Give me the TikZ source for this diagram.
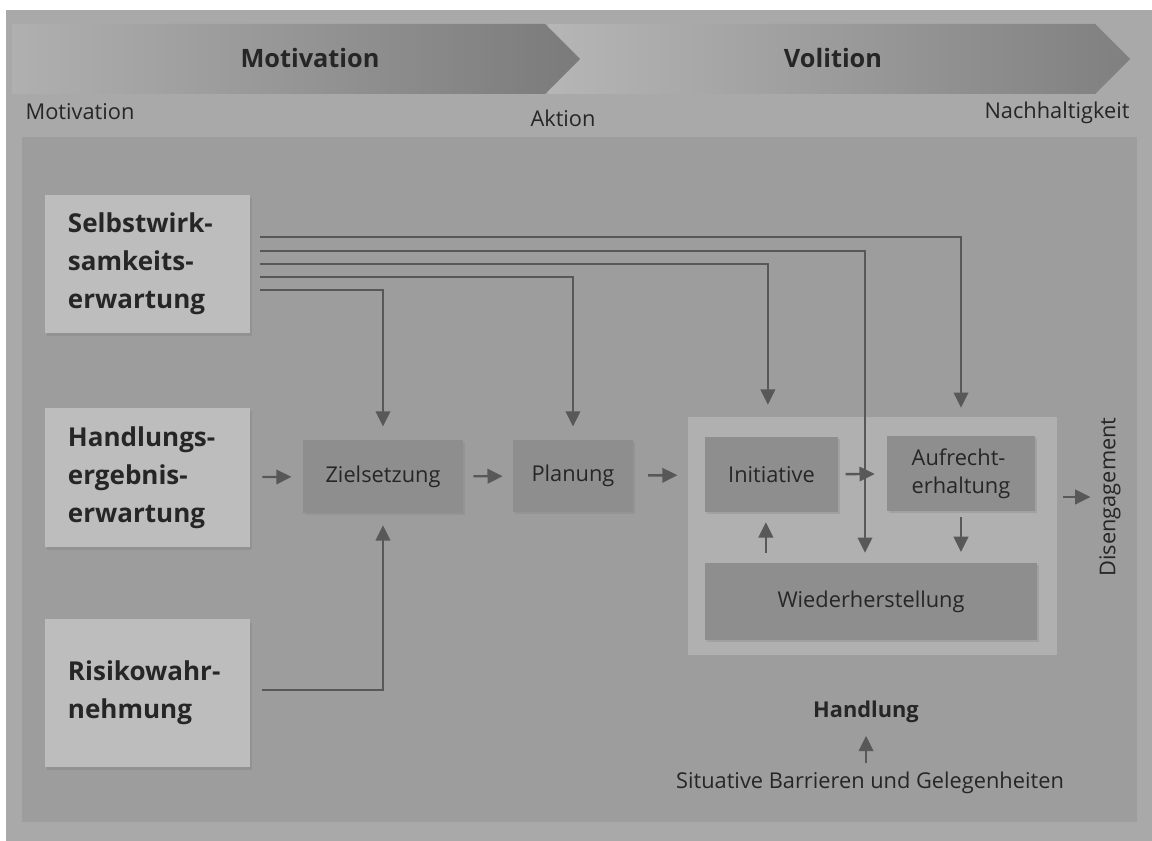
\documentclass[tikz,border=0pt]{standalone}
\usepackage{fontspec}
\setmainfont{Open Sans}
\usetikzlibrary{arrows.meta,shadows}

\definecolor{pagegray}{HTML}{A9A9A9}
\definecolor{panelgray}{HTML}{9D9D9D}
\definecolor{boxlight}{HTML}{BDBDBD}
\definecolor{boxdark}{HTML}{8E8E8E}
\definecolor{blocklight}{HTML}{B0B0B0}
\definecolor{linegray}{HTML}{585858}
\definecolor{textgray}{HTML}{262626}

\tikzset{
	factor/.style={fill=boxlight, text=textgray, font=\fontsize{18.5}{27}\selectfont\bfseries, align=left, text width=3.975cm, inner sep=0pt, minimum width=5.125cm, drop shadow={shadow xshift=0.06cm, shadow yshift=-0.08cm, opacity=0.35}},
	stage/.style={fill=boxdark, text=textgray, font=\fontsize{15.5}{20}\selectfont, inner sep=0pt, drop shadow={shadow xshift=0.05cm, shadow yshift=-0.06cm, opacity=0.3}},
	link/.style={draw=linegray, line width=1.7pt, ->},
	label/.style={text=textgray, font=\fontsize{15.5}{20}\selectfont}
}

\begin{document}
\begin{tikzpicture}[x=0.025cm, y=-0.025cm, >={Triangle[length=0.38cm,width=0.36cm]}]
		\useasboundingbox (0,0) rectangle (1152,841);
		\fill[white] (0,0) rectangle (1152,841);
		\fill[pagegray] (6,10) rectangle (1152,841);
		% phase arrows
		\shade[left color=pagegray!85!white, right color=black!50] (548,24) -- (1095,24) -- (1130,59) -- (1095,94) -- (548,94) -- cycle;
		\shade[left color=pagegray!92!white, right color=black!52] (12,24) -- (545,24) -- (580,59) -- (545,94) -- (12,94) -- cycle;
		\draw (310,58) node[text=textgray, font=\fontsize{18}{20}\selectfont\bfseries] (motiv) {Motivation};
		\draw (833,58) node[text=textgray, font=\fontsize{18}{20}\selectfont\bfseries] (volit) {Volition};
		\draw (80,112) node[label] (start) {Motivation};
		\draw (563,118) node[label] (aktion) {Aktion};
		\draw (1057,113) node[label] (nachh) {Nachhaltigkeit};

		\fill[panelgray] (22,137) rectangle (1137,822);
		\fill[blocklight] (688,417) rectangle (1057,655);

		\draw (147.5,264) node[factor, minimum height=3.45cm] (selbst) {Selbstwirk-\\samkeits-\\erwartung};
		\draw (147.5,477.5) node[factor, minimum height=3.475cm] (handl) {Handlungs-\\ergebnis-\\erwartung};
		\draw (147.5,693) node[factor, minimum height=3.675cm] (risiko) {Risikowahr-\\nehmung};

		\draw (383,476.5) node[stage, minimum width=4cm, minimum height=1.825cm] (ziel) {Zielsetzung};
		\draw (573,476) node[stage, minimum width=3cm, minimum height=1.8cm] (plan) {Planung};
		\draw (771.5,474.5) node[stage, minimum width=3.325cm, minimum height=1.875cm] (init) {Initiative};
		\draw (961,473.5) node[stage, minimum width=3.7cm, minimum height=1.875cm, align=left] (aufr) {Aufrecht-\\erhaltung};
		\draw (871,601.5) node[stage, minimum width=8.3cm, minimum height=1.925cm] (wieder) {Wiederherstellung};
		\draw (1110,497) node[label, rotate=90] (diseng) {Disengagement};

		\draw (866,712) node[text=textgray, font=\fontsize{15.5}{20}\selectfont\bfseries] (handlung) {Handlung};
		\draw (870,783) node[label] (situ) {Situative Barrieren und Gelegenheiten};

		% main chain
		\draw[link, shorten <=0.3cm, shorten >=0.28cm] (handl) -- (ziel);
		\draw[link, shorten <=0.25cm, shorten >=0.25cm] (ziel) -- (plan);
		\draw[link, shorten <=0.37cm, shorten >=0.68cm] (plan) -- (init);
		\draw[link, shorten <=0.18cm, shorten >=0.3cm] (init) -- (aufr);
		\draw[link, shorten <=0.7cm, shorten >=0.1cm] (aufr.east |- diseng.north) -- (diseng.north);

		% Selbstwirksamkeit
		\draw[link, shorten <=0.25cm, shorten >=0.7cm] ([yshift=0.675cm]selbst.east) -| (aufr.north);
		\draw[link, shorten <=0.25cm, shorten >=0.25cm] ([yshift=0.325cm]selbst.east) -| ([xshift=-0.15cm]wieder.north);
		\draw[link, shorten <=0.25cm, shorten >=0.8cm] (selbst.east) -| ([xshift=-0.09cm]init.north);
		\draw[link, shorten <=0.25cm, shorten >=0.33cm] ([yshift=-0.325cm]selbst.east) -| (plan.north);
		\draw[link, shorten <=0.25cm, shorten >=0.33cm] ([yshift=-0.65cm]selbst.east) -| (ziel.north);

		\draw[link, shorten <=0.3cm, shorten >=0.3cm] ([yshift=0.075cm]risiko.east) -| (ziel.south);
		\draw[link, shorten <=0.25cm, shorten >=0.25cm] ([xshift=-0.14cm]init.south |- wieder.north) -- ([xshift=-0.14cm]init.south);
		\draw[link, shorten <=0.15cm, shorten >=0.27cm] (aufr.south) -- (aufr.south |- wieder.north);
		\draw[link, shorten <=0.1cm, shorten >=0.2cm] (handlung.south |- situ.north) -- (handlung.south);

	\end{tikzpicture}
\end{document}
